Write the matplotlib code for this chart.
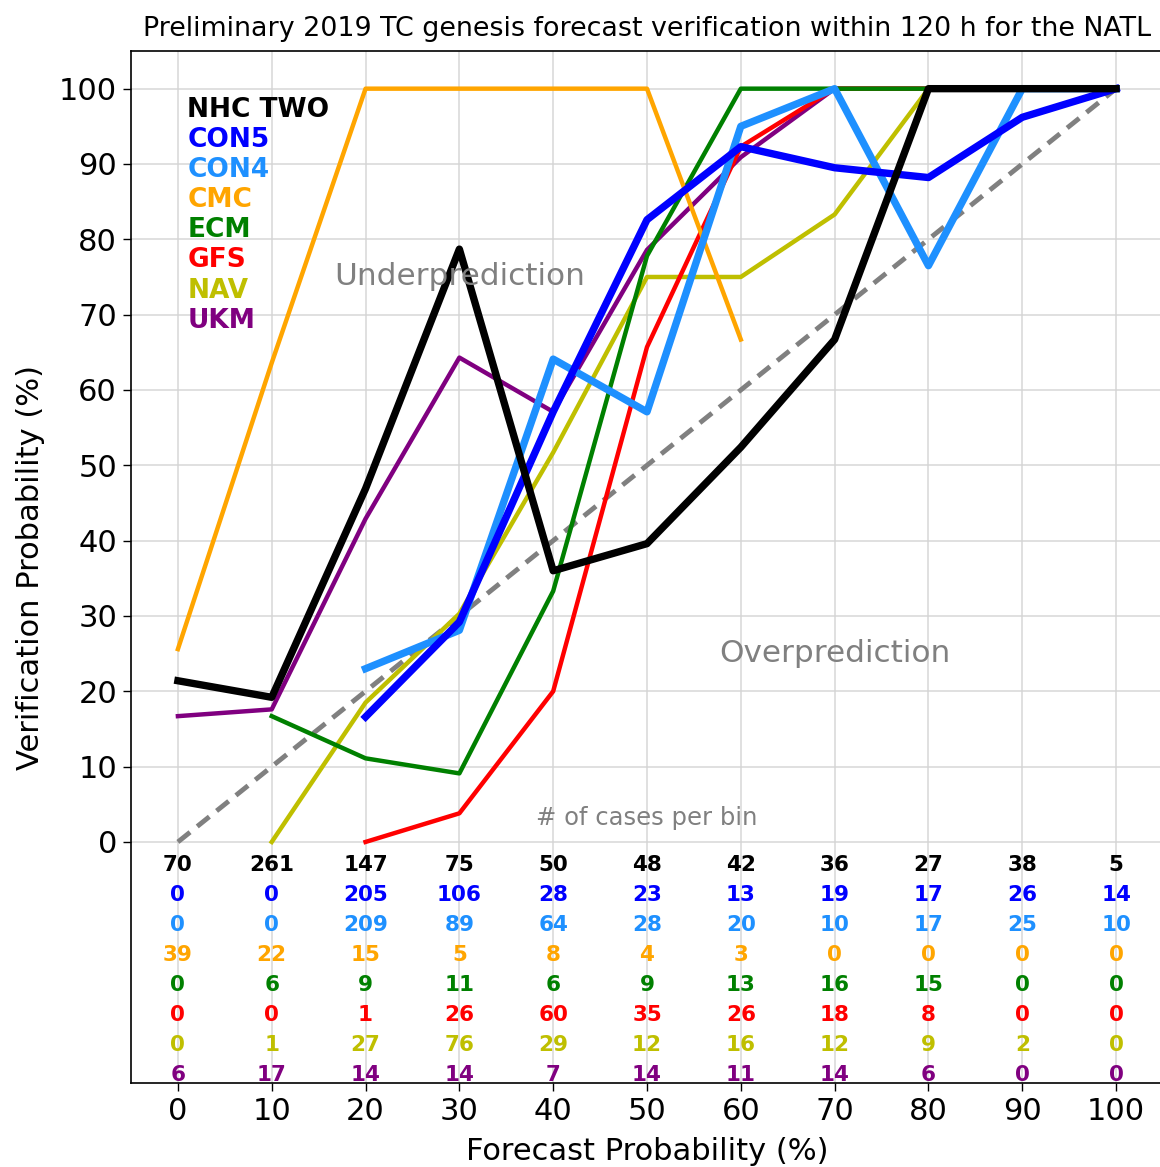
import matplotlib
matplotlib.use("Agg")

import numpy as np
import matplotlib.pyplot as plt

nan = np.nan

# forecast probability bins
bins = [0, 10, 20, 30, 40, 50, 60, 70, 80, 90, 100]

# verification probability (%) per bin, nan = no cases
nhc_two = [21.4, 19.2, 46.9, 78.7, 36.0, 39.6, 52.4, 66.7, 100, 100, 100]
con5 = [nan, nan, 16.6, 29.2, 57.1, 82.6, 92.3, 89.5, 88.2, 96.2, 100]
con4 = [nan, nan, 23.0, 28.1, 64.1, 57.1, 95.0, 100, 76.5, 100, 100]
cmc = [25.6, 63.6, 100, 100, 100, 100, 66.7, nan, nan, nan, nan]
ecm = [nan, 16.7, 11.1, 9.1, 33.3, 77.8, 100, 100, 100, nan, nan]
gfs = [nan, nan, 0.0, 3.8, 20.0, 65.7, 92.3, 100, 100, nan, nan]
nav = [nan, 0.0, 18.5, 30.3, 51.7, 75.0, 75.0, 83.3, 100, 100, nan]
ukm = [16.7, 17.6, 42.9, 64.3, 57.1, 78.6, 90.9, 100, 100, nan, nan]

# number of cases per bin
n_nhc = [70, 261, 147, 75, 50, 48, 42, 36, 27, 38, 5]
n_con5 = [0, 0, 205, 106, 28, 23, 13, 19, 17, 26, 14]
n_con4 = [0, 0, 209, 89, 64, 28, 20, 10, 17, 25, 10]
n_cmc = [39, 22, 15, 5, 8, 4, 3, 0, 0, 0, 0]
n_ecm = [0, 6, 9, 11, 6, 9, 13, 16, 15, 0, 0]
n_gfs = [0, 0, 1, 26, 60, 35, 26, 18, 8, 0, 0]
n_nav = [0, 1, 27, 76, 29, 12, 16, 12, 9, 2, 0]
n_ukm = [6, 17, 14, 14, 7, 14, 11, 14, 6, 0, 0]

names = ["NHC TWO", "CON5", "CON4", "CMC", "ECM", "GFS", "NAV", "UKM"]
colors = ["k", "blue", "dodgerblue", "orange", "green", "red", "y", "purple"]
widths = [5.3, 5.3, 5.3, 3.2, 3.2, 3.2, 3.2, 3.2]
series = [nhc_two, con5, con4, cmc, ecm, gfs, nav, ukm]
counts = [n_nhc, n_con5, n_con4, n_cmc, n_ecm, n_gfs, n_nav, n_ukm]

fig = plt.figure(figsize=(11.6, 11.67), dpi=100)
ax = fig.add_axes([131 / 1160, 84 / 1167, 1032 / 1160, 1032 / 1167])

# perfect reliability line
ax.plot([0, 100], [0, 100], color="gray", lw=3.5, ls=(0, (3.2, 1.9)), zorder=2)

# draw in reverse so NHC TWO ends up on top
for vals, c, lw in list(zip(series, colors, widths))[::-1]:
    ax.plot(bins, vals, color=c, lw=lw, zorder=3)

# model names as coloured text
for i, (name, c) in enumerate(zip(names, colors)):
    ax.text(1, 97.2 - 4 * i, name, color=c, fontsize=19, fontweight="bold",
            ha="left", va="center")

ax.text(30, 75, "Underprediction", color="gray", fontsize=22.4,
        ha="center", va="center")
ax.text(70, 25, "Overprediction", color="gray", fontsize=22.4,
        ha="center", va="center")
ax.text(50, 3.2, "# of cases per bin", color="gray", fontsize=17.5,
        ha="center", va="center")

# case counts under the zero line
for i, (row, c) in enumerate(zip(counts, colors)):
    for x, n in zip(bins, row):
        ax.text(x, -3 - 4 * i, str(n), color=c, fontsize=15.5,
                fontweight="bold", ha="center", va="center")

ax.set_xlim(-5, 105)
ax.set_ylim(-32, 105)
ax.set_xticks(range(0, 101, 10))
ax.set_yticks(range(0, 101, 10))
ax.tick_params(labelsize=22, length=6, width=1, pad=4)
ax.grid(color="lightgray", lw=1.1, alpha=0.9)
ax.set_axisbelow(True)
for s in ax.spines.values():
    s.set_linewidth(1.2)
ax.spines["right"].set_visible(False)

ax.set_xlabel("Forecast Probability (%)", fontsize=22, labelpad=8)
ax.set_ylabel("Verification Probability (%)", fontsize=22, labelpad=10)
ax.set_title("Preliminary 2019 TC genesis forecast verification within 120 h for the NATL",
             fontsize=19.4, pad=11)

plt.savefig("out.png", dpi=100)
plt.close()
